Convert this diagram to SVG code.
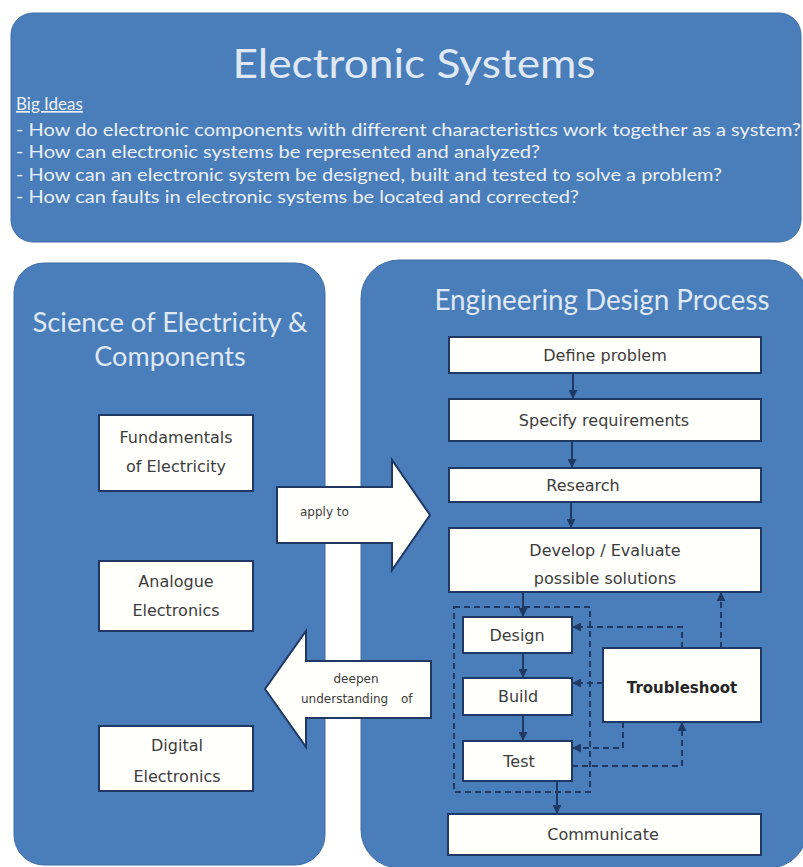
<svg xmlns="http://www.w3.org/2000/svg" width="803" height="867" viewBox="0 0 803 867">
  <defs>
    <style>
      .panel { fill: #4a7ebb; stroke: #3f6ea8; stroke-width: 1; }
      .ptitle { font-family: Lato, "Open Sans", sans-serif; fill: #dfe8f4; }
      .bullet { font-family: Lato, "Open Sans", sans-serif; font-size: 17px; fill: #eaf0f8; }
      .box { fill: #fffffb; stroke: #1f3864; stroke-width: 2; }
      .btxt { font-family: "DejaVu Sans", Verdana, sans-serif; font-size: 16px; fill: #3c3c3c; text-anchor: middle; }
      .bold { font-weight: bold; font-size: 15px; fill: #262626; }
      .atxt { font-family: "DejaVu Sans", Verdana, sans-serif; font-size: 12px; fill: #3c3c3c; }
      .bigarrow { fill: #fffffb; stroke: #1f3864; stroke-width: 2; stroke-linejoin: miter; }
      .flow { fill: none; stroke: #1f3864; stroke-width: 2; marker-end: url(#tri); }
      .loop { fill: none; stroke: #1f3864; stroke-width: 2; stroke-dasharray: 6 4; }
      .loopa { fill: none; stroke: #1f3864; stroke-width: 2; stroke-dasharray: 6 4; marker-end: url(#tri); }
    </style>
    <marker id="tri" viewBox="0 0 10 10" refX="9" refY="5" markerWidth="4.5" markerHeight="4.5" orient="auto" markerUnits="strokeWidth">
      <path d="M0,0 L10,5 L0,10 z" fill="#1f3864"/>
    </marker>
  </defs>

  <rect width="803" height="867" fill="#ffffff"/>

  <!-- header panel with big ideas -->
  <g id="header">
    <rect class="panel" x="11" y="13" width="790" height="229" rx="22"/>
    <text class="ptitle" x="414" y="78" font-size="40" text-anchor="middle" textLength="363" lengthAdjust="spacingAndGlyphs" fill="#eef3fa">Electronic Systems</text>
    <text class="bullet" x="16" y="110" text-decoration="underline">Big Ideas</text>
    <text class="bullet" x="16" y="136" textLength="785" lengthAdjust="spacingAndGlyphs">- How do electronic components with different characteristics work together as a system?</text>
    <text class="bullet" x="16" y="158" textLength="524" lengthAdjust="spacingAndGlyphs">- How can electronic systems be represented and analyzed?</text>
    <text class="bullet" x="16" y="181" textLength="706" lengthAdjust="spacingAndGlyphs">- How can an electronic system be designed, built and tested to solve a problem?</text>
    <text class="bullet" x="16" y="203" textLength="563" lengthAdjust="spacingAndGlyphs">- How can faults in electronic systems be located and corrected?</text>
  </g>

  <!-- left panel -->
  <g id="science">
    <rect class="panel" x="14" y="263" width="311" height="602" rx="30"/>
    <text class="ptitle" x="170" y="332" font-size="27" text-anchor="middle" textLength="275" lengthAdjust="spacingAndGlyphs">Science of Electricity &amp;</text>
    <text class="ptitle" x="170" y="366" font-size="27" text-anchor="middle">Components</text>
  </g>

  <!-- right panel -->
  <g id="edp">
    <rect class="panel" x="361" y="260" width="446" height="608" rx="38"/>
    <text class="ptitle" x="602" y="310" font-size="28" text-anchor="middle" textLength="335" lengthAdjust="spacingAndGlyphs">Engineering Design Process</text>
  </g>

  <!-- left column topics -->
  <g id="fundamentals">
    <rect class="box" x="99" y="415" width="154" height="76"/>
    <text class="btxt" x="176" y="443">Fundamentals</text>
    <text class="btxt" x="176" y="472">of Electricity</text>
  </g>
  <g id="analogue">
    <rect class="box" x="99" y="561" width="154" height="70"/>
    <text class="btxt" x="176" y="587">Analogue</text>
    <text class="btxt" x="176" y="616">Electronics</text>
  </g>
  <g id="digital">
    <rect class="box" x="99" y="726" width="154" height="65"/>
    <text class="btxt" x="177" y="751">Digital</text>
    <text class="btxt" x="177" y="782">Electronics</text>
  </g>

  <!-- block arrows between the panels -->
  <g id="apply-to">
    <polygon class="bigarrow" points="277,487 392,487 392,460 430,515 392,570 392,543 277,543"/>
    <text class="atxt" x="300" y="516" font-size="13">apply to</text>
  </g>
  <g id="deepen">
    <polygon class="bigarrow" points="265,689 306,631 306,661 431,661 431,718 306,718 306,747"/>
    <text class="atxt" x="356" y="683" text-anchor="middle">deepen</text>
    <text class="atxt" x="301" y="703">understanding</text>
    <text class="atxt" x="401" y="703">of</text>
  </g>

  <!-- design process steps -->
  <g id="define">
    <rect class="box" x="449" y="337" width="312" height="36"/>
    <text class="btxt" x="605" y="361">Define problem</text>
  </g>
  <g id="specify">
    <rect class="box" x="449" y="399" width="312" height="42"/>
    <text class="btxt" x="604" y="426">Specify requirements</text>
  </g>
  <g id="research">
    <rect class="box" x="449" y="468" width="312" height="34"/>
    <text class="btxt" x="583" y="491">Research</text>
  </g>
  <g id="develop">
    <rect class="box" x="449" y="528" width="312" height="64"/>
    <text class="btxt" x="605" y="556">Develop / Evaluate</text>
    <text class="btxt" x="605" y="584">possible solutions</text>
  </g>
  <g id="design">
    <rect class="box" x="463" y="617" width="109" height="36"/>
    <text class="btxt" x="517" y="641">Design</text>
  </g>
  <g id="build">
    <rect class="box" x="463" y="678" width="109" height="37"/>
    <text class="btxt" x="518" y="702">Build</text>
  </g>
  <g id="test">
    <rect class="box" x="463" y="741" width="109" height="40"/>
    <text class="btxt" x="519" y="767">Test</text>
  </g>
  <g id="troubleshoot">
    <rect class="box" x="603" y="648" width="158" height="74"/>
    <text class="btxt bold" x="682" y="693">Troubleshoot</text>
  </g>
  <g id="communicate">
    <rect class="box" x="448" y="814" width="313" height="41"/>
    <text class="btxt" x="603" y="840">Communicate</text>
  </g>

  <!-- connectors -->
  <g id="connectors">
    <line class="flow" x1="573" y1="373" x2="573" y2="398"/>
    <line class="flow" x1="572" y1="441" x2="572" y2="467"/>
    <line class="flow" x1="571" y1="502" x2="571" y2="527"/>
    <line class="flow" x1="523" y1="592" x2="523" y2="616"/>
    <line class="flow" x1="523" y1="653" x2="523" y2="677"/>
    <line class="flow" x1="523" y1="715" x2="523" y2="740"/>
    <line class="flow" x1="557" y1="781" x2="557" y2="813"/>

    <!-- build/test loop boundary -->
    <rect class="loop" x="454" y="607" width="136" height="185"/>

    <!-- troubleshooting feedback paths -->
    <polyline class="loopa" points="682,648 682,627 573,627"/>
    <polyline class="loopa" points="721,648 721,593"/>
    <polyline class="loopa" points="603,683 573,683"/>
    <polyline class="loopa" points="623,722 623,748 573,748"/>
    <polyline class="loopa" points="572,766 682,766 682,723"/>
  </g>
</svg>
